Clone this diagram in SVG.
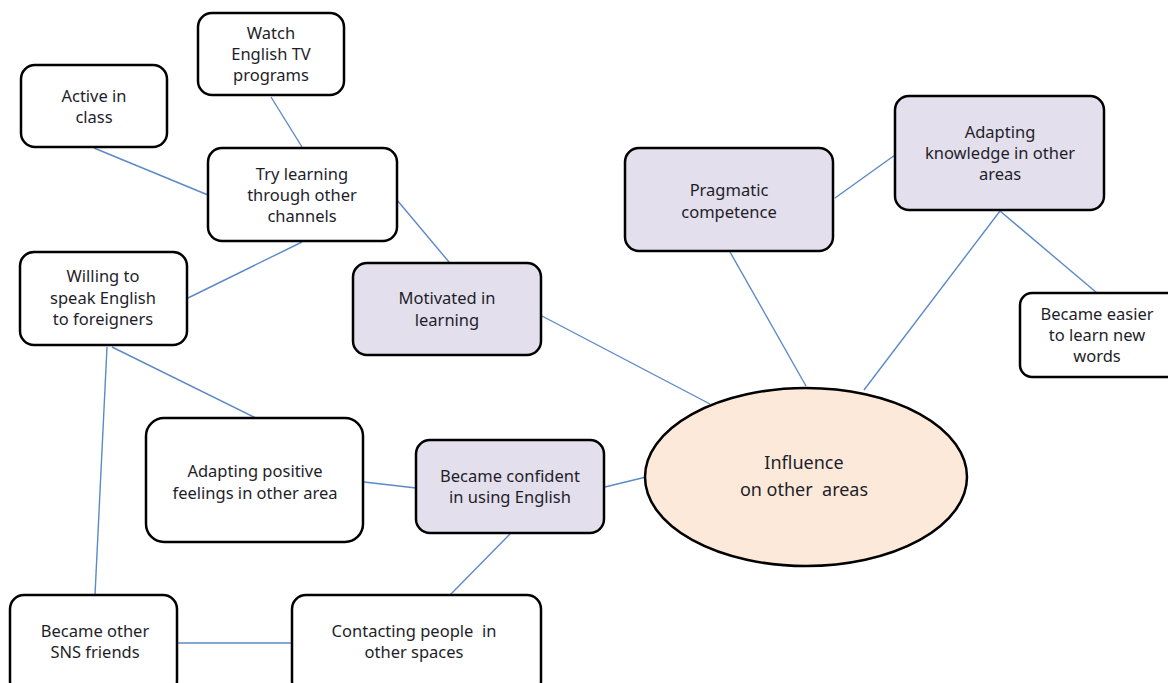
<svg xmlns="http://www.w3.org/2000/svg" width="1168" height="683" viewBox="0 0 1168 683">
<style>
.box{fill:#ffffff;stroke:#000;stroke-width:2.5}
.hl{fill:#e4dfec}
.t{font-family:"Noto Sans","Open Sans",sans-serif;font-size:16.5px;fill:#1e1e2a;text-anchor:middle;white-space:pre}
.big{font-size:18px}
.c line{stroke:#5b8ac6;stroke-width:1.4}
</style>
<rect width="1168" height="683" fill="#ffffff"/>
<g class="c" id="connectors">
<line x1="271" y1="97" x2="302" y2="147"/>
<line x1="94" y1="148" x2="208" y2="195"/>
<line x1="397" y1="200" x2="449" y2="262"/>
<line x1="302" y1="242" x2="188" y2="298"/>
<line x1="112" y1="347" x2="256" y2="418"/>
<line x1="107" y1="347" x2="95" y2="595"/>
<line x1="542" y1="316" x2="710" y2="404"/>
<line x1="730" y1="252" x2="806" y2="386"/>
<line x1="835" y1="198" x2="895" y2="155"/>
<line x1="1000" y1="211" x2="864" y2="390"/>
<line x1="1000" y1="211" x2="1097" y2="293"/>
<line x1="364" y1="482" x2="416" y2="488"/>
<line x1="605" y1="487" x2="646" y2="477"/>
<line x1="510" y1="534" x2="450" y2="595"/>
<line x1="177" y1="643" x2="292" y2="643"/>
</g>
<g id="watch"><rect class="box" x="198" y="13" width="146" height="82" rx="14"/>
<text class="t" x="271" y="39">Watch</text><text class="t" x="271" y="60">English TV</text><text class="t" x="271" y="81">programs</text></g>
<g id="active"><rect class="box" x="21" y="65" width="146" height="82" rx="14"/>
<text class="t" x="94" y="102">Active in</text><text class="t" x="94" y="123">class</text></g>
<g id="try"><rect class="box" x="208" y="148" width="189" height="93" rx="14"/>
<text class="t" x="302" y="180">Try learning</text><text class="t" x="302" y="201">through other</text><text class="t" x="302" y="222">channels</text></g>
<g id="willing"><rect class="box" x="20" y="252" width="167" height="93" rx="14"/>
<text class="t" x="103" y="282">Willing to</text><text class="t" x="103" y="304">speak English</text><text class="t" x="103" y="325">to foreigners</text></g>
<g id="motivated"><rect class="box hl" x="353" y="263" width="188" height="92" rx="14"/>
<text class="t" x="447" y="304">Motivated in</text><text class="t" x="447" y="326">learning</text></g>
<g id="pragmatic"><rect class="box hl" x="625" y="148" width="208" height="103" rx="14"/>
<text class="t" x="729" y="196">Pragmatic</text><text class="t" x="729" y="218">competence</text></g>
<g id="adapting-knowledge"><rect class="box hl" x="895" y="96" width="209" height="114" rx="14"/>
<text class="t" x="1000" y="138">Adapting</text><text class="t" x="1000" y="159">knowledge in other</text><text class="t" x="1000" y="180">areas</text></g>
<g id="easier"><rect class="box" x="1020" y="293" width="160" height="84" rx="12"/>
<text class="t" x="1097" y="320">Became easier</text><text class="t" x="1097" y="341">to learn new</text><text class="t" x="1097" y="362">words</text></g>
<g id="positive"><rect class="box" x="146" y="418" width="217" height="124" rx="18"/>
<text class="t" x="255" y="477">Adapting positive</text><text class="t" x="255" y="499">feelings in other area</text></g>
<g id="confident"><rect class="box hl" x="416" y="440" width="188" height="93" rx="14"/>
<text class="t" x="510" y="482">Became confident</text><text class="t" x="510" y="503">in using English</text></g>
<g id="influence"><ellipse cx="806" cy="477" rx="161" ry="89" fill="#fde9d9" stroke="#000" stroke-width="2.5"/>
<text class="t big" x="804" y="469">Influence</text><text class="t big" x="804" y="496">on other  areas</text></g>
<g id="sns"><rect class="box" x="10" y="595" width="167" height="100" rx="14"/>
<text class="t" x="95" y="637">Became other</text><text class="t" x="95" y="658">SNS friends</text></g>
<g id="contacting"><rect class="box" x="292" y="595" width="249" height="100" rx="14"/>
<text class="t" x="414" y="637">Contacting people  in</text><text class="t" x="414" y="658">other spaces</text></g>
</svg>
